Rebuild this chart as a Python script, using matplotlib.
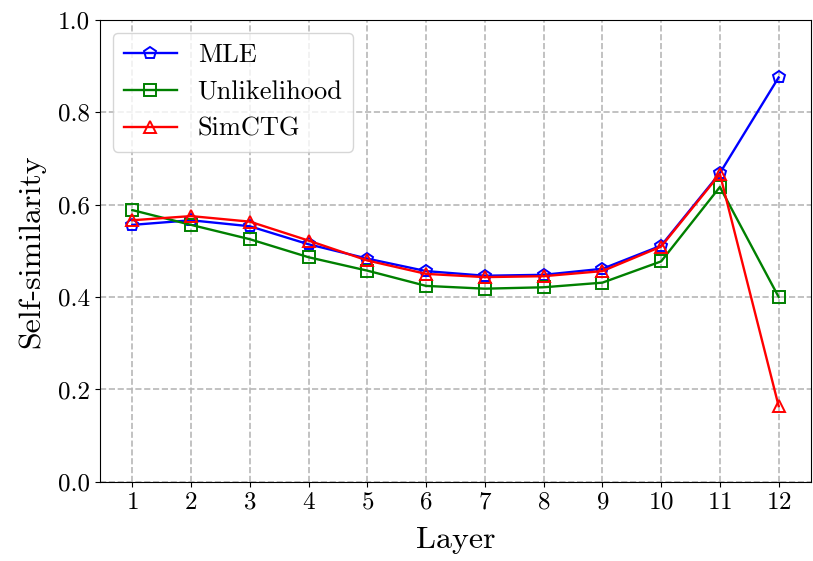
import matplotlib
matplotlib.use("Agg")
import matplotlib.pyplot as plt

plt.rcParams['font.family'] = 'serif'
plt.rcParams['font.serif'] = ['cmr10']
plt.rcParams['mathtext.fontset'] = 'cm'
plt.rcParams['axes.formatter.use_mathtext'] = True

layers = [1, 2, 3, 4, 5, 6, 7, 8, 9, 10, 11, 12]
mle = [0.556, 0.566, 0.553, 0.514, 0.483, 0.456, 0.446, 0.448, 0.461, 0.511, 0.668, 0.875]
unlikelihood = [0.588, 0.556, 0.525, 0.486, 0.457, 0.424, 0.418, 0.421, 0.431, 0.477, 0.638, 0.400]
simctg = [0.566, 0.575, 0.563, 0.522, 0.479, 0.450, 0.443, 0.445, 0.456, 0.509, 0.666, 0.164]

fig = plt.figure(figsize=(8.13, 5.61), dpi=100)
ax = fig.add_axes([0.123, 0.141, 0.8745, 0.824])

ax.plot(layers, mle, color='blue', marker='p', markersize=9, markerfacecolor='none',
        markeredgewidth=1.4, linewidth=1.7, label='MLE')
ax.plot(layers, unlikelihood, color='green', marker='s', markersize=9, markerfacecolor='none',
        markeredgewidth=1.4, linewidth=1.7, label='Unlikelihood')
ax.plot(layers, simctg, color='red', marker='^', markersize=9, markerfacecolor='none',
        markeredgewidth=1.4, linewidth=1.7, label='SimCTG')

ax.set_ylim(0, 1.0)
ax.set_xticks(layers)
ax.set_yticks([0.0, 0.2, 0.4, 0.6, 0.8, 1.0])
ax.set_yticklabels(['0.0', '0.2', '0.4', '0.6', '0.8', '1.0'])
ax.tick_params(labelsize=18)
ax.grid(True, linestyle='--', color='#b8b8b8', linewidth=1.2)
ax.set_xlabel('Layer', fontsize=23, labelpad=9)
ax.set_ylabel('Self-similarity', fontsize=23, labelpad=9)
ax.legend(loc='upper left', fontsize=19, framealpha=0.8)

fig.savefig('out.png', dpi=100)
